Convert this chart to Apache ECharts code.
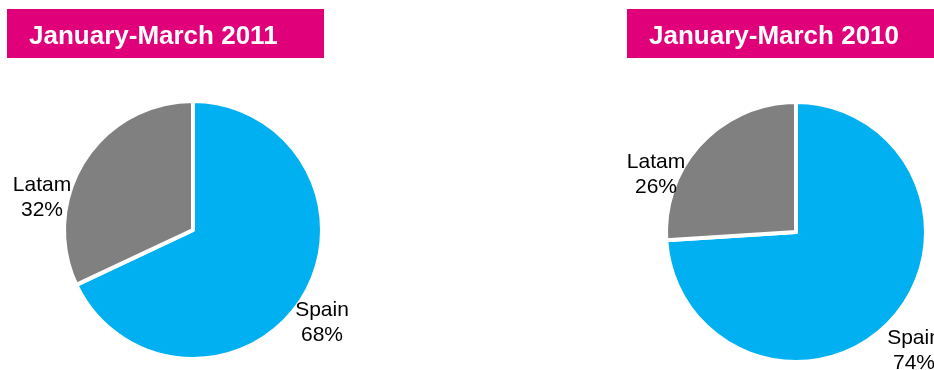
<!DOCTYPE html>
<html><head><meta charset="utf-8">
<script src="https://cdn.jsdelivr.net/npm/echarts@6/dist/echarts.min.js"></script>
<style>html,body{margin:0;padding:0;background:#fff}#c{width:934px;height:370px}</style>
</head><body><div id="c"></div>
<script>
const categories = ['Spain', 'Latam'];
const values2011 = [68, 32];
const values2010 = [74, 26];
const titles = ['January-March 2011', 'January-March 2010'];
const colors = ['#00B0F0', '#808080'];

const labelPos = [
  [[322, 323], [42, 198]],
  [[914, 351], [656, 175]]
];

function mkSeries(idx, vals, center, radius) {
  return {
    type: 'pie',
    center: center,
    radius: radius,
    startAngle: 90,
    clockwise: true,
    silent: true,
    animation: false,
    avoidLabelOverlap: false,
    data: categories.map((c, i) => ({ name: c, value: vals[i], itemStyle: { color: colors[i] } })),
    itemStyle: { borderColor: '#fff', borderWidth: 4 },
    label: {
      show: true,
      position: 'outside',
      formatter: p => p.name + '\n' + p.value + '%',
      fontFamily: 'Liberation Sans',
      fontSize: 21,
      lineHeight: 25,
      color: '#000',
      align: 'center',
      overflow: 'none',
      width: 200
    },
    labelLine: { show: false },
    labelLayout: function (p) {
      const pos = labelPos[idx][p.dataIndex];
      return { x: pos[0], y: pos[1], align: 'center', verticalAlign: 'middle', hideOverlap: false };
    }
  };
}

const chart = echarts.init(document.getElementById('c'), null, { renderer: 'canvas' });
chart.setOption({
  backgroundColor: '#fff',
  graphic: [
    { type: 'rect', shape: { x: 7, y: 9, width: 317, height: 49 }, style: { fill: '#E0007A' } },
    { type: 'text', x: 29, y: 37, style: { text: titles[0], fill: '#fff', font: 'bold 26px "Liberation Sans"', textVerticalAlign: 'middle' } },
    { type: 'rect', shape: { x: 627, y: 9, width: 307, height: 49 }, style: { fill: '#E0007A' } },
    { type: 'text', x: 649, y: 37, style: { text: titles[1], fill: '#fff', font: 'bold 26px "Liberation Sans"', textVerticalAlign: 'middle' } }
  ],
  series: [
    mkSeries(0, values2011, [193, 230], 129),
    mkSeries(1, values2010, [796, 232], 130)
  ]
});
</script></body></html>
